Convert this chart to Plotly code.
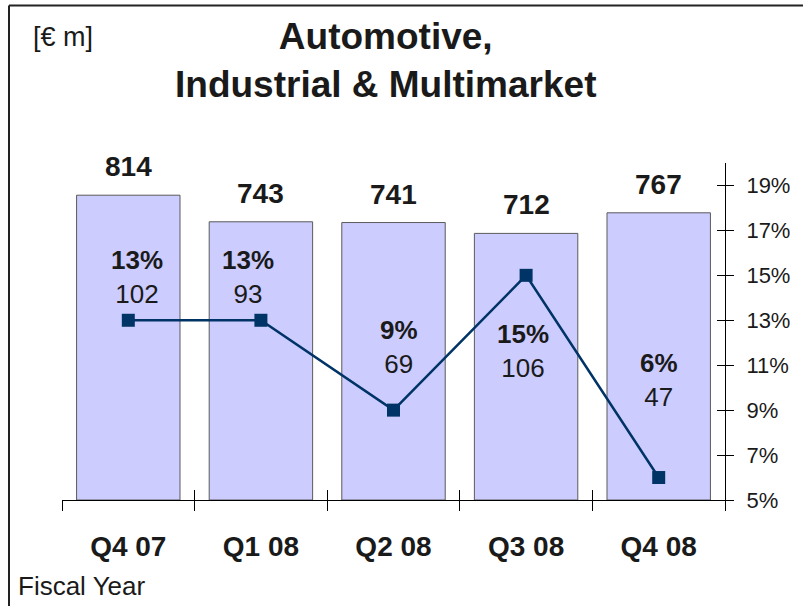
import plotly.graph_objects as go

# ---- data ----
quarters = ["Q4 07", "Q1 08", "Q2 08", "Q3 08", "Q4 08"]
revenue = [814, 743, 741, 712, 767]          # € m
segment_result = [102, 93, 69, 106, 47]      # € m
margin_pct = [13, 13, 9, 15, 6]              # %
pct_ticks = [5, 7, 9, 11, 13, 15, 17, 19]
pct_tick_labels = [f"{v}%" for v in pct_ticks]

# ---- label layout (positions of in-bar labels, in % axis units) ----
label_y = [14.93, 14.93, 11.83, 11.63, 10.36]
label_xshift = [9, -13, 5, -3, 0]

FONT = "Liberation Sans, Arial, Helvetica, sans-serif"
TXT = "#1a1a1a"
W, H = 803, 606
L, R, T, B = 62, 78, 163, 106
pw, ph = W - L - R, H - T - B

n = len(quarters)
boundaries = [i - 0.5 for i in range(n + 1)]

def px_x(px):
    return (px - L) / pw

def px_y(py):
    return (H - B - py) / ph

fig = go.Figure()
fig.add_trace(go.Bar(
    x=quarters, y=revenue, xaxis="x", yaxis="y",
    width=0.78,
    marker=dict(color="#CCCCFF", line=dict(color="#5a5a5a", width=1)),
    showlegend=False, hoverinfo="skip",
))
fig.add_trace(go.Scatter(
    x=quarters, y=margin_pct, xaxis="x", yaxis="y2",
    mode="lines+markers",
    line=dict(color="#003366", width=2.5),
    marker=dict(symbol="square", size=13, color="#003366"),
    showlegend=False, hoverinfo="skip",
))
# empty helper trace for the overlay axes (crossing tick marks)
fig.add_trace(go.Scatter(x=[], y=[], xaxis="x2", yaxis="y3", showlegend=False))

annotations = []
for q, v in zip(quarters, revenue):
    annotations.append(dict(
        x=q, y=v, xref="x", yref="y", text=f"<b>{v}</b>",
        showarrow=False, yanchor="bottom", yshift=11,
        font=dict(family=FONT, size=28, color=TXT),
    ))
for i, (q, m, r) in enumerate(zip(quarters, margin_pct, segment_result)):
    annotations.append(dict(
        x=q, y=label_y[i], xref="x", yref="y2",
        text=f"<b>{m}%</b><br>{r}", showarrow=False,
        xshift=label_xshift[i], yanchor="middle",
        font=dict(family=FONT, size=26, color=TXT),
    ))
annotations.append(dict(
    x=px_x(385), y=px_y(60), xref="paper", yref="paper",
    text="<b>Automotive,<br>Industrial & Multimarket</b>", showarrow=False,
    xanchor="center", yanchor="middle",
    font=dict(family=FONT, size=37, color=TXT),
))
annotations.append(dict(
    x=px_x(31), y=px_y(37), xref="paper", yref="paper",
    text="[€ m]", showarrow=False, xanchor="left", yanchor="middle",
    font=dict(family=FONT, size=27, color=TXT),
))
annotations.append(dict(
    x=px_x(16), y=px_y(586), xref="paper", yref="paper",
    text="Fiscal Year", showarrow=False, xanchor="left", yanchor="middle",
    font=dict(family=FONT, size=26, color=TXT),
))

x_left = px_x(9)
y_top = px_y(5.5)
shapes = [
    dict(type="line", xref="paper", yref="paper", x0=x_left, x1=1.3, y0=y_top, y1=y_top,
         line=dict(color="#222222", width=2)),
    dict(type="line", xref="paper", yref="paper", x0=x_left, x1=x_left, y0=y_top, y1=-0.5,
         line=dict(color="#222222", width=2)),
]

fig.update_layout(
    width=W, height=H,
    margin=dict(l=L, r=R, t=T, b=B, pad=0),
    paper_bgcolor="white", plot_bgcolor="white",
    font=dict(family=FONT, color=TXT),
    bargap=0.22,
    xaxis=dict(
        type="category", range=[-0.5, n - 0.5],
        showline=True, linecolor="black", linewidth=1,
        ticks="outside", ticklen=10, tickcolor="black", tickwidth=1,
        tickson="boundaries", showgrid=False, zeroline=False,
        tickfont=dict(family=FONT, size=28, color=TXT, weight="bold"),
        ticklabelstandoff=21,
    ),
    xaxis2=dict(
        overlaying="x", anchor="y", side="bottom", type="linear",
        range=[-0.5, n - 0.5], tickvals=boundaries,
        ticks="inside", ticklen=10, tickcolor="black", tickwidth=1,
        showticklabels=False, showgrid=False, zeroline=False, showline=False,
    ),
    yaxis=dict(visible=False, range=[0, 900], fixedrange=True),
    yaxis2=dict(
        overlaying="y", side="right", anchor="x", range=[5, 20],
        tickvals=pct_ticks, ticktext=pct_tick_labels,
        showline=True, linecolor="black", linewidth=1,
        ticks="outside", ticklen=8, tickcolor="black", tickwidth=1,
        showgrid=False, zeroline=False,
        tickfont=dict(family=FONT, size=22, color=TXT),
        ticklabelstandoff=8,
    ),
    yaxis3=dict(
        overlaying="y", side="right", anchor="x", range=[5, 20],
        tickvals=pct_ticks, ticks="inside", ticklen=8, tickcolor="black", tickwidth=1,
        showticklabels=False, showgrid=False, zeroline=False, showline=False,
    ),
    annotations=annotations,
    shapes=shapes,
)

fig.write_html(
    "out.html",
    config={"displayModeBar": False, "staticPlot": True},
    post_script="document.body.style.margin='0';document.body.style.padding='0';",
)
